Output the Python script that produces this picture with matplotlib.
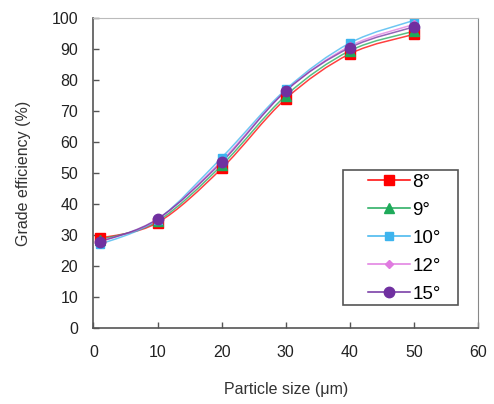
import matplotlib
matplotlib.use("Agg")
import matplotlib.pyplot as plt
from matplotlib.path import Path
from matplotlib.patches import PathPatch, Rectangle
import numpy as np

plt.rcParams['font.family'] = ['Liberation Sans', 'DejaVu Sans']

particle_size = [1, 10, 20, 30, 40, 50]
series_labels = ['8°', '9°', '10°', '12°', '15°']
eff_8 = [29.0, 34.0, 51.5, 74.0, 88.5, 94.8]
eff_9 = [28.5, 34.5, 52.5, 75.0, 89.5, 95.8]
eff_10 = [27.0, 35.0, 55.0, 77.0, 92.0, 99.3]
eff_12 = [28.0, 35.0, 54.0, 76.5, 91.0, 98.0]
eff_15 = [27.8, 35.2, 53.5, 76.5, 90.5, 97.2]
x_ticks = [0, 10, 20, 30, 40, 50, 60]
y_ticks = [0, 10, 20, 30, 40, 50, 60, 70, 80, 90, 100]

colors = ['#FF0000', '#1FAA5A', '#3DB4EE', '#E07BE0', '#7030A0']
markers = ['s', '^', 's', 'D', 'o']
msizes = [7, 6.5, 5.5, 4.5, 7.5]


def smooth_path(xs, ys):
    pts = np.column_stack([xs, ys]).astype(float)
    n = len(pts)
    verts = [pts[0]]
    codes = [Path.MOVETO]
    for i in range(n - 1):
        p0 = pts[i - 1] if i > 0 else pts[i]
        p1 = pts[i]
        p2 = pts[i + 1]
        p3 = pts[i + 2] if i + 2 < n else pts[i + 1]
        c1 = p1 + (p2 - p0) / 6.0
        c2 = p2 - (p3 - p1) / 6.0
        verts += [c1, c2, p2]
        codes += [Path.CURVE4] * 3
    return Path(verts, codes)


fig = plt.figure(figsize=(4.94, 4.04), dpi=100)
ax = fig.add_axes([0.189, 0.188, 0.779, 0.767])

all_series = [eff_8, eff_9, eff_10, eff_12, eff_15]
for ys, lab, c, m, ms in zip(all_series, series_labels, colors, markers, msizes):
    ax.add_patch(PathPatch(smooth_path(particle_size, ys), facecolor='none',
                           edgecolor=c, lw=1.1, alpha=0.75))
    ax.plot(particle_size, ys, linestyle='none', marker=m, color=c, ms=ms,
            markeredgecolor=c)
    ax.plot([], [], color=c, lw=1.1, alpha=1, marker=m, ms=ms, label=lab)

ax.set_xlim(0, 60)
ax.set_ylim(0, 100)
ax.set_xticks(x_ticks)
ax.set_yticks(y_ticks)
ax.tick_params(direction='in', length=4, width=1, color='#555555',
               labelsize=11.5, labelcolor='#222222')
ax.tick_params(axis='x', pad=12)
ax.tick_params(axis='y', pad=11)
for s in ['left', 'bottom']:
    ax.spines[s].set_color('#555555')
    ax.spines[s].set_linewidth(1.2)
ax.spines['top'].set_color('#bbbbbb')
ax.spines['right'].set_color('#888888')

ax.set_xlabel('Particle size (μm)', fontsize=11.5, color='#333333', labelpad=16)
ax.set_ylabel('Grade efficiency (%)', fontsize=11.5, color='#333333', labelpad=15)

ax.add_patch(Rectangle((0.649, 0.074), 0.299, 0.436, transform=ax.transAxes,
                       facecolor='white', edgecolor='#555555', lw=1.2, zorder=4))
leg = ax.legend(loc='center', bbox_to_anchor=(0.809, 0.289),
                fontsize=13.5, frameon=False, handlelength=2.2,
                handletextpad=0.15, labelspacing=0.58, borderpad=0)
leg.set_zorder(5)

fig.savefig('out.png', dpi=100)
